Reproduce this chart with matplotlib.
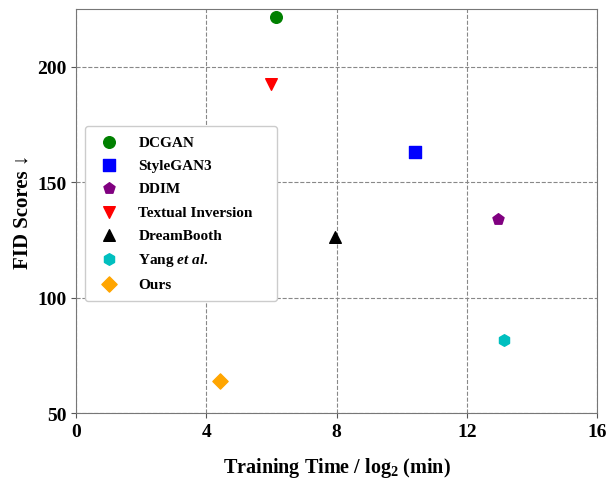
import matplotlib
matplotlib.use('Agg')
import matplotlib.pyplot as plt

plt.rcParams['font.family'] = ['Liberation Serif', 'DejaVu Serif']
plt.rcParams['font.weight'] = 'bold'
plt.rcParams['axes.labelweight'] = 'bold'
plt.rcParams['mathtext.fontset'] = 'custom'
plt.rcParams['mathtext.rm'] = 'Liberation Serif:bold'
plt.rcParams['mathtext.it'] = 'Liberation Serif:bold:italic'

methods = ['DCGAN', 'StyleGAN3', 'DDIM', 'Textual Inversion', 'DreamBooth',
           r'Yang $\it{et\ al.}$', 'Ours']
train_time = [6.15, 10.4, 12.95, 6.0, 7.94, 13.14, 4.43]
fid = [221.4, 163.0, 134.0, 192.4, 126.2, 81.6, 63.9]
colors = ['green', 'blue', 'purple', 'red', 'black', 'c', 'orange']
markers = ['o', 's', 'p', 'v', '^', 'h', 'D']

fig = plt.figure(figsize=(6.08, 4.81), dpi=100)
ax = fig.add_axes([0.125, 0.139, 0.857, 0.84])

for m, x, y, c, mk in zip(methods, train_time, fid, colors, markers):
    ax.scatter(x, y, color=c, marker=mk, s=70 if mk != 'D' else 60, label=m, zorder=3)

ax.set_xlim(0, 16)
ax.set_ylim(50, 225)
ax.set_xticks([0, 4, 8, 12, 16])
ax.set_yticks([50, 100, 150, 200])
ax.tick_params(labelsize=14, color='#555555')
for s in ax.spines.values():
    s.set_color('#777777')
ax.grid(True, linestyle='--', color='#888888', linewidth=0.8)

ax.set_xlabel(r'Training Time / log$_2$ (min)', fontsize=14.5, labelpad=11)
ax.set_ylabel('FID Scores ↓', fontsize=15, labelpad=3)

ax.legend(loc='upper left', bbox_to_anchor=(0.017, 0.29, 0.369, 0.42), mode='expand',
          borderaxespad=0, prop={'weight': 'bold', 'size': 11}, handletextpad=0.9,
          borderpad=0.6, labelspacing=0.62, framealpha=1)

fig.savefig('out.png', dpi=100)
